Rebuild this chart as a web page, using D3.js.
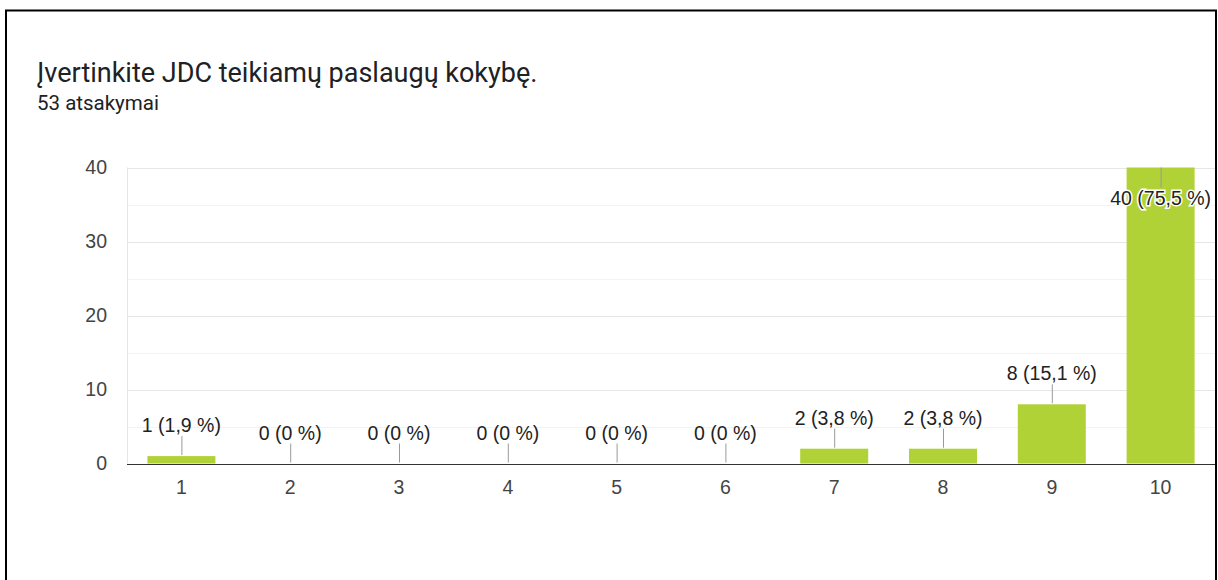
<!DOCTYPE html>
<html>
<head>
<meta charset="utf-8">
<script src="https://cdn.jsdelivr.net/npm/d3@7"></script>
<style>
  body { margin: 0; background: #fff; }
  svg { display: block; }
</style>
</head>
<body>
<div id="vis"></div>
<script>
// data
var categories = ["1", "2", "3", "4", "5", "6", "7", "8", "9", "10"];
var counts = [1, 0, 0, 0, 0, 0, 2, 2, 8, 40];
var percents = [1.9, 0, 0, 0, 0, 0, 3.8, 3.8, 15.1, 75.5];
var yTicks = [0, 10, 20, 30, 40];
var yMinor = [5, 15, 25, 35];
var title = "Įvertinkite JDC teikiamų paslaugų kokybę.";
var subtitle = "53 atsakymai";

var W = 1218, H = 580;
var plot = {left: 127, right: 1215, top: 167.5, bottom: 463.5};
var labelFont = "Arial, 'Liberation Sans'";

var svg = d3.select("#vis").append("svg")
    .attr("width", W)
    .attr("height", H);

svg.append("rect").attr("width", W).attr("height", H).attr("fill", "#fff");

// frame around the card
svg.append("rect")
    .attr("x", 6).attr("y", 10.5)
    .attr("width", 1210).attr("height", 620)
    .attr("fill", "none")
    .attr("stroke", "#000")
    .attr("stroke-width", 2);

svg.append("text")
    .attr("x", 37).attr("y", 82)
    .attr("font-family", "Roboto")
    .attr("font-size", 27)
    .attr("fill", "#202124")
    .text(title);

svg.append("text")
    .attr("x", 37).attr("y", 110)
    .attr("font-family", "Roboto")
    .attr("font-size", 20.5)
    .attr("fill", "#202124")
    .text(subtitle);

var x = d3.scaleBand()
    .domain(categories)
    .range([plot.left, plot.right])
    .paddingInner(0.375)
    .paddingOuter(0.1875);

var y = d3.scaleLinear()
    .domain([0, 40])
    .range([plot.bottom, plot.top]);

// gridlines
svg.append("g").selectAll("line")
    .data(yMinor)
    .enter().append("line")
    .attr("x1", plot.left).attr("x2", plot.right)
    .attr("y1", function(d) { return Math.round(y(d)) + 0.5; })
    .attr("y2", function(d) { return Math.round(y(d)) + 0.5; })
    .attr("stroke", "#f3f3f3");

svg.append("g").selectAll("line")
    .data(yTicks.slice(1))
    .enter().append("line")
    .attr("x1", plot.left).attr("x2", plot.right)
    .attr("y1", function(d) { return Math.round(y(d)) + 0.5; })
    .attr("y2", function(d) { return Math.round(y(d)) + 0.5; })
    .attr("stroke", "#e6e6e6");

svg.append("line")
    .attr("x1", plot.left + 0.5).attr("x2", plot.left + 0.5)
    .attr("y1", plot.top).attr("y2", plot.bottom)
    .attr("stroke", "#e6e6e6");

// y axis labels
var yAxis = svg.append("g")
    .attr("transform", "translate(" + (plot.left - 20) + ",0)")
    .call(d3.axisLeft(y).tickValues(yTicks).tickSize(0).tickPadding(0));
yAxis.select(".domain").remove();
yAxis.selectAll("text")
    .attr("font-family", labelFont)
    .attr("font-size", 19.5)
    .attr("fill", "#444");

// x axis labels
var xAxis = svg.append("g")
    .attr("transform", "translate(0," + plot.bottom + ")")
    .call(d3.axisBottom(x).tickSize(0).tickPadding(17));
xAxis.select(".domain").remove();
xAxis.selectAll("text")
    .attr("font-family", labelFont)
    .attr("font-size", 19.5)
    .attr("fill", "#444");

// bars
svg.append("g").selectAll("rect")
    .data(counts)
    .enter().append("rect")
    .attr("x", function(d, i) { return x(categories[i]); })
    .attr("width", x.bandwidth())
    .attr("y", function(d) { return y(d); })
    .attr("height", function(d) { return y(0) - y(d); })
    .attr("fill", "#b1d236");

// baseline
svg.append("line")
    .attr("x1", plot.left).attr("x2", plot.right)
    .attr("y1", Math.round(y(0)) + 0.5).attr("y2", Math.round(y(0)) + 0.5)
    .attr("stroke", "#333");

// annotations: stem + label (the tallest bar gets its label inside)
var fmt = function(v) { return String(v).replace(".", ","); };
var ann = svg.append("g").selectAll("g")
    .data(counts)
    .enter().append("g")
    .attr("transform", function(d, i) {
        return "translate(" + (x(categories[i]) + x.bandwidth() / 2) + "," + y(d) + ")";
    });

ann.append("line")
    .attr("x1", 0.5).attr("x2", 0.5)
    .attr("y1", function(d) { return d === 40 ? 0 : -1; })
    .attr("y2", function(d) { return d === 40 ? 20 : -20; })
    .attr("stroke", "#999");

ann.append("text")
    .attr("text-anchor", "middle")
    .attr("y", function(d) { return d === 40 ? 37 : -24; })
    .attr("font-family", labelFont)
    .attr("font-size", 19.5)
    .attr("fill", "#222")
    .attr("stroke", function(d) { return d === 40 ? "#fff" : "none"; })
    .attr("stroke-width", 3)
    .attr("paint-order", "stroke")
    .text(function(d, i) { return d + " (" + fmt(percents[i]) + " %)"; });
</script>
</body>
</html>
